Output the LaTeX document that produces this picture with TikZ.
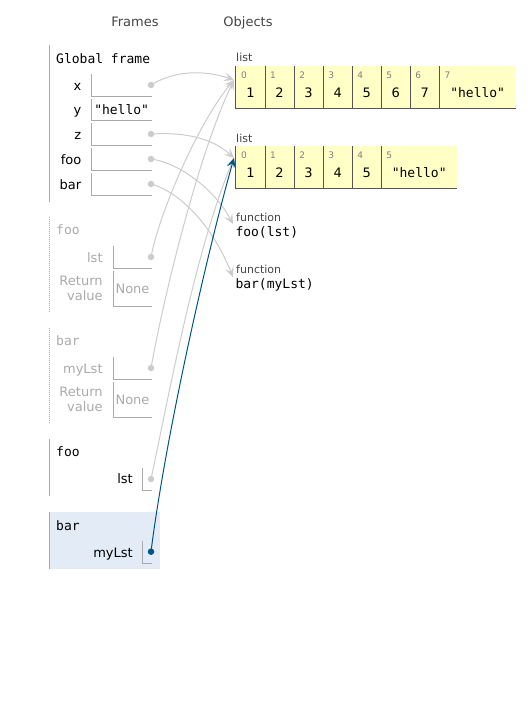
\documentclass[tikz,border=0pt]{standalone}
\usepackage{fontspec}
\setmainfont{DejaVu Sans}
\setmonofont{DejaVu Sans Mono}
\usetikzlibrary{positioning,arrows.meta}

\definecolor{framegray}{HTML}{AAAAAA}
\definecolor{headgray}{HTML}{444444}
\definecolor{cellborder}{HTML}{555555}
\definecolor{cellfill}{HTML}{FFFFC6}
\definecolor{idxgray}{HTML}{808080}
\definecolor{ptrgray}{HTML}{CCCCCC}
\definecolor{ptrblue}{HTML}{005583}
\definecolor{activebg}{HTML}{E2EBF6}

\begin{document}
\begin{tikzpicture}[x=1pt,y=-1pt,
  heading/.style={anchor=base,inner sep=0pt,text=headgray,font=\fontsize{13}{15}\selectfont},
  framename/.style={anchor=base west,inner sep=0pt,font=\ttfamily\fontsize{13}{15}\selectfont},
  varname/.style={anchor=base east,inner sep=0pt,font=\fontsize{13}{15}\selectfont},
  retname/.style={anchor=east,inner sep=0pt,align=right,text=framegray,font=\fontsize{13}{15}\selectfont},
  frameline/.style={draw=framegray,line width=1pt},
  zombieline/.style={draw=framegray,line width=1pt,dash pattern=on 1pt off 1pt},
  boxline/.style={draw=framegray,line width=1pt,to path={|- (\tikztotarget)}},
  valbox/.style={inner sep=0pt,outer sep=0pt,minimum height=22pt,text height=12pt,text depth=3pt,
    font=\ttfamily\fontsize{13}{15}\selectfont,
    append after command={(\tikzlastnode.north west) edge[boxline] (\tikzlastnode.south east)}},
  ptrdot/.style={circle,fill=ptrgray,inner sep=0pt,minimum size=6.5pt},
  objlabel/.style={anchor=base west,inner sep=0pt,text=headgray,font=\fontsize{11}{13}\selectfont},
  funcname/.style={anchor=base west,inner sep=0pt,font=\ttfamily\fontsize{13}{15}\selectfont},
  cellline/.style={draw=cellborder,line width=1pt,to path={|- (\tikztotarget)}},
  cell/.style={fill=cellfill,inner sep=0pt,outer sep=0pt,minimum width=29.05pt,minimum height=42pt,
    text height=24pt,text depth=4pt,font=\fontsize{13}{15}\selectfont,
    append after command={(\tikzlastnode.north west) edge[cellline] (\tikzlastnode.south east)}},
  idx/.style={anchor=base west,inner sep=0pt,text=idxgray,font=\fontsize{9}{10}\selectfont},
  ptr/.style={draw=ptrgray,line width=1pt,-{Stealth[length=10pt,width=9pt,inset=4.5pt]}},
  ptractive/.style={ptr,draw=ptrblue}]
  \useasboundingbox (0,0) rectangle (532,728);

  \node[heading] (hframes) at (135,27) {Frames};
  \node[heading] (hobjects) at (248,27) {Objects};

  % global frame
  \draw[frameline] (49.3,45) -- (49.3,202);
  \node[framename] (gname) at (56,63.5) {Global frame};
  \node[varname] (gxn) at (81.5,90.3) {x};
  \node[valbox,minimum width=60.7pt] (gx) at (121.65,85) {};
  \node[varname] (gyn) at (81.5,114.8) {y};
  \node[valbox,minimum width=60.7pt] (gy) at (121.65,109.5) {"hello"};
  \node[varname] (gzn) at (81.5,139.3) {z};
  \node[valbox,minimum width=60.7pt] (gz) at (121.65,134) {};
  \node[varname] (gfoon) at (81.5,164.3) {foo};
  \node[valbox,minimum width=60.7pt] (gfoo) at (121.65,159) {};
  \node[varname] (gbarn) at (81.5,189.3) {bar};
  \node[valbox,minimum width=60.7pt] (gbar) at (121.65,184) {};
  \node[ptrdot] (gxd) at (151,85) {};
  \node[ptrdot] (gzd) at (151,134) {};
  \node[ptrdot] (gfood) at (151,159) {};
  \node[ptrdot] (gbard) at (151,184) {};

  % finished foo frame
  \draw[zombieline] (49.3,217) -- (49.3,313);
  \node[framename,text=framegray] (zfname) at (56,234.7) {foo};
  \node[varname,text=framegray] (zflstn) at (102.8,262) {lst};
  \node[valbox,minimum width=39pt] (zflst) at (132.5,257) {};
  \node[ptrdot] (zflstd) at (151,257) {};
  \node[retname] (zfretn) at (102.8,288.8) {Return\\value};
  \node[valbox,minimum width=39pt,minimum height=35pt,text=framegray,font=\fontsize{13}{15}\selectfont] (zfret) at (132.5,288.5) {None};

  % finished bar frame
  \draw[zombieline] (49.3,328) -- (49.3,423);
  \node[framename,text=framegray] (zbname) at (56,345.7) {bar};
  \node[varname,text=framegray] (zblstn) at (102.8,373) {myLst};
  \node[valbox,minimum width=39pt] (zblst) at (132.5,368) {};
  \node[ptrdot] (zblstd) at (151,368) {};
  \node[retname] (zbretn) at (102.8,399.8) {Return\\value};
  \node[valbox,minimum width=39pt,minimum height=35pt,text=framegray,font=\fontsize{13}{15}\selectfont] (zbret) at (132.5,399.5) {None};

  % running foo frame
  \draw[frameline] (49.3,439) -- (49.3,496);
  \node[framename] (afname) at (56,456.7) {foo};
  \node[varname] (aflstn) at (133,483.7) {lst};
  \node[valbox,minimum width=9.7pt] (aflst) at (147.15,479.15) {};
  \node[ptrdot] (aflstd) at (151,479) {};

  % current bar frame
  \fill[activebg] (49.3,512.3) rectangle (160,569.3);
  \draw[frameline] (49.3,512.3) -- (49.3,569.3);
  \node[framename] (abname) at (56,530) {bar};
  \node[varname] (ablstn) at (133,557.5) {myLst};
  \node[valbox,minimum width=9.7pt] (ablst) at (147.15,552) {};

  % first list
  \node[objlabel] (l1name) at (236,61.7) {list};
  \node[cell] (la0) at (250.5,87) {1};
  \node[cell,right=0pt of la0] (la1) {2};
  \node[cell,right=0pt of la1] (la2) {3};
  \node[cell,right=0pt of la2] (la3) {4};
  \node[cell,right=0pt of la3] (la4) {5};
  \node[cell,right=0pt of la4] (la5) {6};
  \node[cell,right=0pt of la5] (la6) {7};
  \node[cell,right=0pt of la6,minimum width=76.7pt] (la7) {\ttfamily "hello"};
  \node[idx] (la0i) at ([xshift=5pt,yshift=-12.3pt]la0.north west) {0};
  \node[idx] (la1i) at ([xshift=5pt,yshift=-12.3pt]la1.north west) {1};
  \node[idx] (la2i) at ([xshift=5pt,yshift=-12.3pt]la2.north west) {2};
  \node[idx] (la3i) at ([xshift=5pt,yshift=-12.3pt]la3.north west) {3};
  \node[idx] (la4i) at ([xshift=5pt,yshift=-12.3pt]la4.north west) {4};
  \node[idx] (la5i) at ([xshift=5pt,yshift=-12.3pt]la5.north west) {5};
  \node[idx] (la6i) at ([xshift=5pt,yshift=-12.3pt]la6.north west) {6};
  \node[idx] (la7i) at ([xshift=5pt,yshift=-12.3pt]la7.north west) {7};

  % second list
  \node[objlabel] (l2name) at (236,142) {list};
  \node[cell] (lb0) at (250.5,167) {1};
  \node[cell,right=0pt of lb0] (lb1) {2};
  \node[cell,right=0pt of lb1] (lb2) {3};
  \node[cell,right=0pt of lb2] (lb3) {4};
  \node[cell,right=0pt of lb3] (lb4) {5};
  \node[cell,right=0pt of lb4,minimum width=76pt] (lb5) {\ttfamily "hello"};
  \node[idx] (lb0i) at ([xshift=5pt,yshift=-12.3pt]lb0.north west) {0};
  \node[idx] (lb1i) at ([xshift=5pt,yshift=-12.3pt]lb1.north west) {1};
  \node[idx] (lb2i) at ([xshift=5pt,yshift=-12.3pt]lb2.north west) {2};
  \node[idx] (lb3i) at ([xshift=5pt,yshift=-12.3pt]lb3.north west) {3};
  \node[idx] (lb4i) at ([xshift=5pt,yshift=-12.3pt]lb4.north west) {4};
  \node[idx] (lb5i) at ([xshift=5pt,yshift=-12.3pt]lb5.north west) {5};

  % functions
  \node[objlabel] (ffoolab) at (236,221.3) {function};
  \node[funcname] (ffoo) at (235.3,236) {foo(lst)};
  \node[objlabel] (fbarlab) at (236,273.3) {function};
  \node[funcname] (fbar) at (235.3,288.3) {bar(myLst)};

  \coordinate (l1in) at (234,80);
  \coordinate (l2in) at (234,158);
  \coordinate (ffooin) at (233,224);
  \coordinate (fbarin) at (233,277);

  % pointers
  \draw[ptr] (gxd.center) .. controls +(24,-15) and +(-29,-10) .. (l1in);
  \draw[ptr] (gzd.center) .. controls +(34,-2) and +(-22,-20) .. (l2in);
  \draw[ptr] (gfood.center) .. controls +(29,4) and +(-18,-34) .. (ffooin);
  \draw[ptr] (gbard.center) .. controls +(29,8) and +(-21,-52) .. (fbarin);
  \draw[ptr] (zflstd.center) .. controls +(9,-47) and +(-34,40) .. (l1in);
  \draw[ptr] (zblstd.center) .. controls +(14,-78) and +(-34,70) .. (l1in);
  \draw[ptr] (aflstd.center) .. controls +(17,-79) and +(-39,92) .. (l2in);
  \node[ptrdot,fill=ptrblue] (ablstd) at (151,551.7) {};
  \draw[ptractive] (ablstd.center) .. controls +(14,-111) and +(-29,102) .. (l2in);
\end{tikzpicture}
\end{document}
